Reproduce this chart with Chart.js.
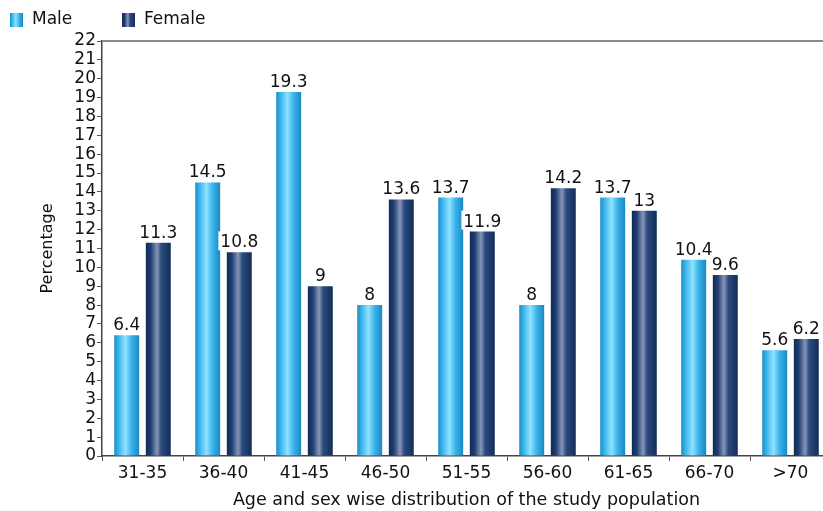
<!DOCTYPE html>
<html>
<head>
<meta charset="utf-8">
<script src="https://cdn.jsdelivr.net/npm/chart.js@4.4.1/dist/chart.umd.min.js"></script>
<style>
    html, body { margin:0; padding:0; background:#fff; overflow:hidden; }
    #box { position:absolute; left:0; top:0; width:836px; height:511px; }
</style>
</head>
<body>
<div id="box"><canvas id="grafico"></canvas></div>
<script>
// Faixas etárias e percentuais por sexo
const faixas = ["31-35","36-40","41-45","46-50","51-55","56-60","61-65","66-70",">70"];
const masculino = [6.4, 14.5, 19.3, 8, 13.7, 8, 13.7, 10.4, 5.6];
const feminino = [11.3, 10.8, 9, 13.6, 11.9, 14.2, 13, 9.6, 6.2];

const FONTE = "'DejaVu Sans', sans-serif";

// Paradas do degradê "cilíndrico" de cada série
const DEGRADES = [
    [[0,"#1a8cc6"],[0.18,"#3cb6ec"],[0.45,"#8fe2ff"],[0.7,"#3ab2ea"],[1,"#1a88c2"]],
    [[0,"#132a50"],[0.2,"#1e3f74"],[0.45,"#8796b6"],[0.62,"#2a4a7e"],[1,"#142d58"]]
];

function degrade(ctx, x0, x1, indice){
    const g = ctx.createLinearGradient(x0, 0, x1, 0);
    DEGRADES[indice].forEach(p=>g.addColorStop(p[0], p[1]));
    return g;
}

// Pinta cada barra com o seu próprio degradê horizontal
const cilindroPlugin = {
    id:"cilindro",
    beforeDatasetsDraw(chart){
        const {ctx} = chart;
        chart.data.datasets.forEach((ds, i)=>{
            chart.getDatasetMeta(i).data.forEach(el=>{
                const x0 = el.x - el.width/2;
                el.options = {...el.options, backgroundColor:degrade(ctx, x0, x0 + el.width, i)};
            });
        });
    }
};

// Valores acima das barras, com fundo branco
const rotulosPlugin = {
    id:"rotulos",
    afterDatasetsDraw(chart){
        const {ctx} = chart;
        ctx.save();
        ctx.font = "17px " + FONTE;
        ctx.textAlign = "center";
        ctx.textBaseline = "alphabetic";
        const n = chart.data.labels.length;
        for(let k=0;k<n;k++){
            chart.data.datasets.forEach((ds, i)=>{
                const el = chart.getDatasetMeta(i).data[k];
                const txt = String(ds.data[k]);
                const w = ctx.measureText(txt).width + 4;
                const base = el.y - 5;
                ctx.fillStyle = "#ffffff";
                ctx.fillRect(el.x - w/2, base - 16, w, 19);
                ctx.fillStyle = "#111111";
                ctx.fillText(txt, el.x, base);
            });
        }
        ctx.restore();
    }
};

// Legenda no canto superior esquerdo + linha superior da área
const molduraPlugin = {
    id:"moldura",
    afterDraw(chart){
        const {ctx, chartArea} = chart;
        ctx.save();
        ctx.strokeStyle = "#8a8a8a";
        ctx.lineWidth = 2;
        ctx.beginPath();
        ctx.moveTo(chartArea.left, chartArea.top);
        ctx.lineTo(chartArea.right, chartArea.top);
        ctx.stroke();

        const posicoes = [10, 122];
        ctx.font = "17px " + FONTE;
        ctx.textBaseline = "middle";
        ctx.textAlign = "left";
        chart.data.datasets.forEach((ds, i)=>{
            const x = posicoes[i];
            ctx.fillStyle = degrade(ctx, x, x + 13, i);
            ctx.fillRect(x, 13, 13, 14);
            ctx.fillStyle = "#111111";
            ctx.fillText(ds.label, x + 22, 20);
        });
        ctx.restore();
    }
};

new Chart(document.getElementById("grafico"),{
    type:"bar",
    data:{
        labels:faixas,
        datasets:[
            {label:"Male", data:masculino, backgroundColor:"#3cb6ec", borderWidth:0,
             barPercentage:0.79, categoryPercentage:0.78},
            {label:"Female", data:feminino, backgroundColor:"#1e3f74", borderWidth:0,
             barPercentage:0.79, categoryPercentage:0.78}
        ]
    },
    options:{
        responsive:true,
        maintainAspectRatio:false,
        animation:false,
        layout:{ padding:{ top:41, left:0, right:5, bottom:0 } },
        plugins:{
            legend:{ display:false },
            tooltip:{ enabled:false }
        },
        scales:{
            x:{
                grid:{ display:true, drawOnChartArea:false, offset:true, tickLength:5, color:"#555" },
                border:{ color:"#444", width:1.5 },
                ticks:{ color:"#111", font:{ family:FONTE, size:17 }, padding:2 },
                title:{ display:true, text:"Age and sex wise distribution of the study population",
                        color:"#111", font:{ family:FONTE, size:17.5 }, padding:{ top:1, bottom:0 } },
                afterFit(scale){ scale.height = 55; }
            },
            y:{
                min:0, max:22,
                grid:{ display:true, drawOnChartArea:false, tickLength:5, color:"#555" },
                border:{ color:"#444", width:1.5 },
                ticks:{ stepSize:1, autoSkip:false, color:"#111", font:{ family:FONTE, size:17 }, padding:1 },
                title:{ display:true, text:"Percentage", color:"#111",
                        font:{ family:FONTE, size:16 }, padding:{ top:38, bottom:4 } },
                afterFit(scale){ scale.width = 102; }
            }
        }
    },
    plugins:[cilindroPlugin, rotulosPlugin, molduraPlugin]
});
</script>
</body>
</html>
